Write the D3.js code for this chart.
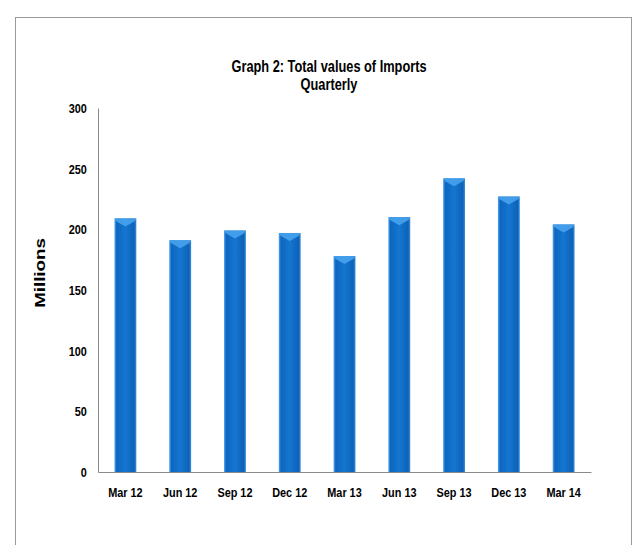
<!DOCTYPE html>
<head>
  <meta charset="utf-8">
  <script src="https://d3js.org/d3.v7.min.js"></script>
  <style>
    body {
      margin: 0;
      background: #fff;
      font-family: "Liberation Sans", Arial, sans-serif;
    }
    .title { font-size: 16px; font-weight: bold; }
    .tick text { font-size: 13.6px; font-weight: bold; fill: #000; }
    .ylabel { font-size: 15px; font-weight: bold; }
  </style>
</head>

<body>
  <div id="chart"></div>

  <script>
    var quarters = ["Mar 12", "Jun 12", "Sep 12", "Dec 12", "Mar 13", "Jun 13", "Sep 13", "Dec 13", "Mar 14"];
    var imports = [209, 191, 199, 197, 178, 210, 242, 227, 204];
    var yTicks = [0, 50, 100, 150, 200, 250, 300];

    var width = 643,
        height = 545,
        margin = {top: 108, right: 52, bottom: 73, left: 98};

    // the original picture is stretched vertically, so text is squeezed sideways
    var squeeze = 0.8;

    var svg = d3.select("#chart").append("svg")
      .attr("width", width)
      .attr("height", height);

    // outer frame
    svg.append("rect")
      .attr("x", 15.5).attr("y", 17.5)
      .attr("width", 616).attr("height", 540)
      .attr("fill", "none")
      .attr("stroke", "#9a9a9a");

    var defs = svg.append("defs");
    var grad = defs.append("linearGradient")
      .attr("id", "barGrad")
      .attr("x1", "0%").attr("x2", "100%")
      .attr("y1", "0%").attr("y2", "0%");
    grad.append("stop").attr("offset", "0%").attr("stop-color", "#5aaaf0");
    grad.append("stop").attr("offset", "10%").attr("stop-color", "#0d66c0");
    grad.append("stop").attr("offset", "50%").attr("stop-color", "#1576d0");
    grad.append("stop").attr("offset", "90%").attr("stop-color", "#0d62b8");
    grad.append("stop").attr("offset", "100%").attr("stop-color", "#3d8fd8");

    var x = d3.scaleBand()
      .domain(quarters)
      .range([margin.left, width - margin.right])
      .paddingInner(0.6)
      .paddingOuter(0.3);

    var y = d3.scaleLinear()
      .domain([0, 300])
      .range([height - margin.bottom, margin.top]);

    var bars = svg.append("g").selectAll("g.bar")
        .data(imports)
      .enter().append("g")
        .attr("class", "bar");

    bars.append("rect")
      .attr("x", function(d, i) { return x(quarters[i]); })
      .attr("y", function(d) { return y(d); })
      .attr("width", x.bandwidth())
      .attr("height", function(d) { return y(0) - y(d); })
      .attr("fill", "url(#barGrad)");

    // light bevel on top of each bar
    bars.append("path")
      .attr("d", function(d, i) {
        var x0 = x(quarters[i]), x1 = x0 + x.bandwidth(), t = y(d);
        var mx = (x0 + x1) / 2;
        return "M" + x0 + "," + t + "L" + x1 + "," + t + "L" + (x1 - 2) + "," + (t + 3) +
               "L" + mx + "," + (t + 8) + "L" + (x0 + 2) + "," + (t + 3) + "Z";
      })
      .attr("fill", "#4aa6f0")
      .attr("opacity", 0.85);

    var yAxis = svg.append("g")
      .attr("transform", "translate(" + margin.left + ",0)")
      .call(d3.axisLeft(y).tickValues(yTicks).tickSize(0).tickPadding(14));

    var xAxis = svg.append("g")
      .attr("transform", "translate(0," + y(0) + ")")
      .call(d3.axisBottom(x).tickSize(0).tickPadding(15));

    svg.selectAll(".tick text").attr("transform", "scale(" + squeeze + ",1)");
    svg.selectAll(".domain").attr("stroke", "#8a8a8a");

    svg.append("text")
      .attr("class", "ylabel")
      .attr("transform", "translate(45,273) rotate(-90) scale(" + (1 / squeeze) + ",1)")
      .attr("text-anchor", "middle")
      .text("Millions");

    var title = svg.append("text")
      .attr("class", "title")
      .attr("text-anchor", "middle")
      .attr("transform", "translate(329,0) scale(" + squeeze + ",1)");
    title.append("tspan").attr("x", 0).attr("y", 72).text("Graph 2: Total values of Imports");
    title.append("tspan").attr("x", 0).attr("y", 90).text("Quarterly");
  </script>
</body>
